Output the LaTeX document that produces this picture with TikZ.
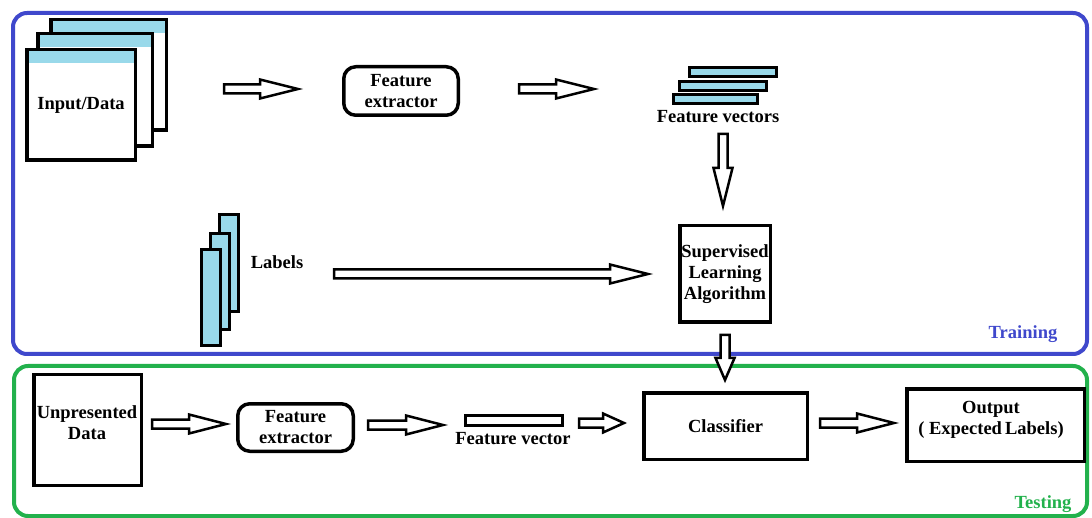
\documentclass[tikz,border=0pt]{standalone}
\usepackage{fontspec}
\setmainfont{Liberation Serif}
\usetikzlibrary{calc}
\definecolor{turq}{RGB}{153,217,234}
\definecolor{trainblue}{RGB}{63,72,204}
\definecolor{testgreen}{RGB}{34,177,76}
\begin{document}
\begin{tikzpicture}[x=1pt,y=-1pt,
  every node/.style={font=\bfseries\fontsize{18.5}{21}\selectfont, inner sep=0pt, align=center},
  box/.style={draw, line width=3.5pt, fill=white},
  rbox/.style={box, rounded corners=12pt},
  page/.style={box, path picture={\fill[turq] (path picture bounding box.north west) rectangle ([yshift=-13pt]path picture bounding box.north east);}},
  bar/.style={draw, line width=3pt, fill=turq},
  frame/.style={line width=4pt, rounded corners=14pt},
  barrow/.style={draw, fill=white, line width=2.5pt, line join=miter},
  % horizontal block arrow, head length as argument
  harrow/.style={barrow, to path={let \p1=(\tikztostart), \p2=(\tikztotarget) in
    (\x1,\y1+4.5pt) -- (\x2-#1,\y1+4.5pt) -- (\x2-#1,\y1+9.5pt) -- (\x2,\y1)
    -- (\x2-#1,\y1-9.5pt) -- (\x2-#1,\y1-4.5pt) -- (\x1,\y1-4.5pt) -- cycle}},
  harrow/.default=38pt,
  % downward block arrow, head length as argument
  varrow/.style={barrow, to path={let \p1=(\tikztostart), \p2=(\tikztotarget) in
    (\x1-4.5pt,\y1) -- (\x1-4.5pt,\y2+#1) -- (\x1-9.5pt,\y2+#1) -- (\x1,\y2)
    -- (\x1+9.5pt,\y2+#1) -- (\x1+4.5pt,\y2+#1) -- (\x1+4.5pt,\y1) -- cycle}},
  varrow/.default=38pt]

\useasboundingbox (0,0) rectangle (1092,518);
\fill[white] (0,0) rectangle (1092,518);

% stage frames
\draw[frame, trainblue] (13,13) rectangle (1087,354);
\draw[frame, testgreen] (14,366) rectangle (1087,516);
\node[text=trainblue] (train) at (1023,334) {Training};
\node[text=testgreen] (test) at (1043,504) {Testing};

% ---------- training ----------
% stacked input documents
\node[page, minimum width=115.5pt, minimum height=110.5pt] (pageC) at (108.5,75) {};
\node[page, minimum width=114.5pt, minimum height=112.5pt] (pageB) at (95,90) {};
\node[page, minimum width=108.5pt, minimum height=110.5pt] (pageA) at (81,105) {Input/Data};

\node[rbox, minimum width=114.5pt, minimum height=48.5pt] (fe1) at (401,91) {Feature\\extractor};

% stacked feature vectors
\node[bar, minimum width=87pt, minimum height=9pt] (fv3) at (733,72.5) {};
\node[bar, minimum width=87pt, minimum height=9pt] (fv2) at (723,86) {};
\node[bar, minimum width=84pt, minimum height=9pt] (fv1) at (715.5,99.5) {};
\node (fvl) at (718,117) {Feature vectors};

% stacked labels
\node[bar, minimum width=19pt, minimum height=97pt] (lb3) at (229,263) {};
\node[bar, minimum width=19pt, minimum height=96pt] (lb2) at (220,281.5) {};
\node[bar, minimum width=19pt, minimum height=96pt] (lb1) at (211,297.5) {};
\node (lbl) at (277,262) {Labels};

\node[box, minimum width=90.5pt, minimum height=96.5pt] (sla) at (725,274) {Supervised\\Learning\\Algorithm};

% ---------- testing ----------
\node[box, minimum width=107.5pt, minimum height=110.5pt] (unp) at (87.5,430) {};
\node (unpt) at (87,423) {Unpresented\\Data};

\node[rbox, minimum width=115.5pt, minimum height=47.5pt] (fe2) at (295.5,427.5) {Feature\\extractor};

\node[draw, line width=3pt, fill=white, minimum width=97pt, minimum height=10pt] (fvb) at (514,420.5) {};
\node (fvbl) at (513,439) {Feature vector};

\node[box, minimum width=163.5pt, minimum height=66.5pt] (cls) at (725.5,426) {Classifier};

\node[box, minimum width=177.5pt, minimum height=72.5pt] (out) at (995.5,425) {};
\node (outt) at (991,419.5) {Output\\( Expected\,Labels)};

% arrow end points
\coordinate (a1s) at (224,89);  \coordinate (a1e) at (298,89);
\coordinate (a2s) at (519,89);  \coordinate (a2e) at (594,89);
\coordinate (a3s) at (723,134); \coordinate (a3e) at (723,206);
\coordinate (a4s) at (334,274); \coordinate (a4e) at (648,274);
\coordinate (a5s) at (725,335); \coordinate (a5e) at (725,380);
\coordinate (b1s) at (152,424); \coordinate (b1e) at (226,424);
\coordinate (b2s) at (368,425); \coordinate (b2e) at (443,425);
\coordinate (b3s) at (579,423); \coordinate (b3e) at (624,423);
\coordinate (b4s) at (820,423); \coordinate (b4e) at (894,423);

% block arrows
\draw[harrow] (a1s) to (a1e);
\draw[harrow=38pt] (a2s) to (a2e);
\draw[varrow] (a3s) to (a3e);
\draw[harrow=38pt] (a4s) to (a4e);
\draw[varrow=22pt] (a5s) to (a5e);
\draw[harrow=37pt] (b1s) to (b1e);
\draw[harrow=37pt] (b2s) to (b2e);
\draw[harrow=21pt] (b3s) to (b3e);
\draw[harrow=37pt] (b4s) to (b4e);
\end{tikzpicture}
\end{document}
